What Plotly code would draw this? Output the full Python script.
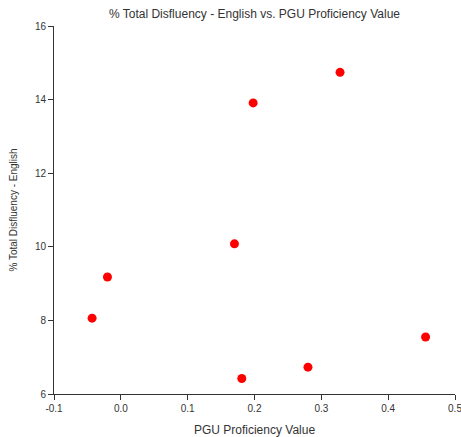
import plotly.graph_objects as go

pgu_proficiency = [-0.043, -0.020, 0.170, 0.198, 0.181, 0.280, 0.328, 0.456]
total_disfluency_english = [8.06, 9.18, 10.08, 13.91, 6.42, 6.73, 14.74, 7.55]

fig = go.Figure()
fig.add_trace(go.Scatter(
    x=pgu_proficiency, y=total_disfluency_english, mode="markers",
    marker=dict(color="#ff0000", size=9, line=dict(width=0)),
    showlegend=False,
))

axis_common = dict(
    showgrid=False, zeroline=False, showline=True, linecolor="#333333", linewidth=1,
    ticks="outside", ticklen=5, tickcolor="#333333", tickwidth=1,
    tickfont=dict(family="Liberation Sans, Arial", size=10, color="#333333"),
    mirror=False, automargin=False, ticklabeloverflow="allow",
)

fig.update_layout(
    width=461, height=437,
    margin=dict(l=54, r=6, t=26, b=43),
    paper_bgcolor="white", plot_bgcolor="white",
    title=dict(text="% Total Disfluency - English vs. PGU Proficiency Value",
               x=254.5 / 461, xanchor="center",
               y=1 - 14 / 437, yanchor="middle",
               font=dict(family="Liberation Sans, Arial", size=12, color="#333333")),
    xaxis=dict(range=[-0.1, 0.5], tickvals=[-0.1, 0, 0.1, 0.2, 0.3, 0.4, 0.5],
               ticktext=["-0.1", "0.0", "0.1", "0.2", "0.3", "0.4", "0.5"],
               title=dict(text="PGU Proficiency Value",
                          font=dict(family="Liberation Sans, Arial", size=12, color="#333333")),
               **axis_common),
    yaxis=dict(range=[6, 16], tickvals=[6, 8, 10, 12, 14, 16],
               title=dict(text="% Total Disfluency - English",
                          font=dict(family="Liberation Sans, Arial", size=10, color="#333333")),
               **axis_common),
)

fig.write_html("out.html", config={"displayModeBar": False},
               post_script="document.body.style.margin='0';document.body.style.overflow='hidden';")
